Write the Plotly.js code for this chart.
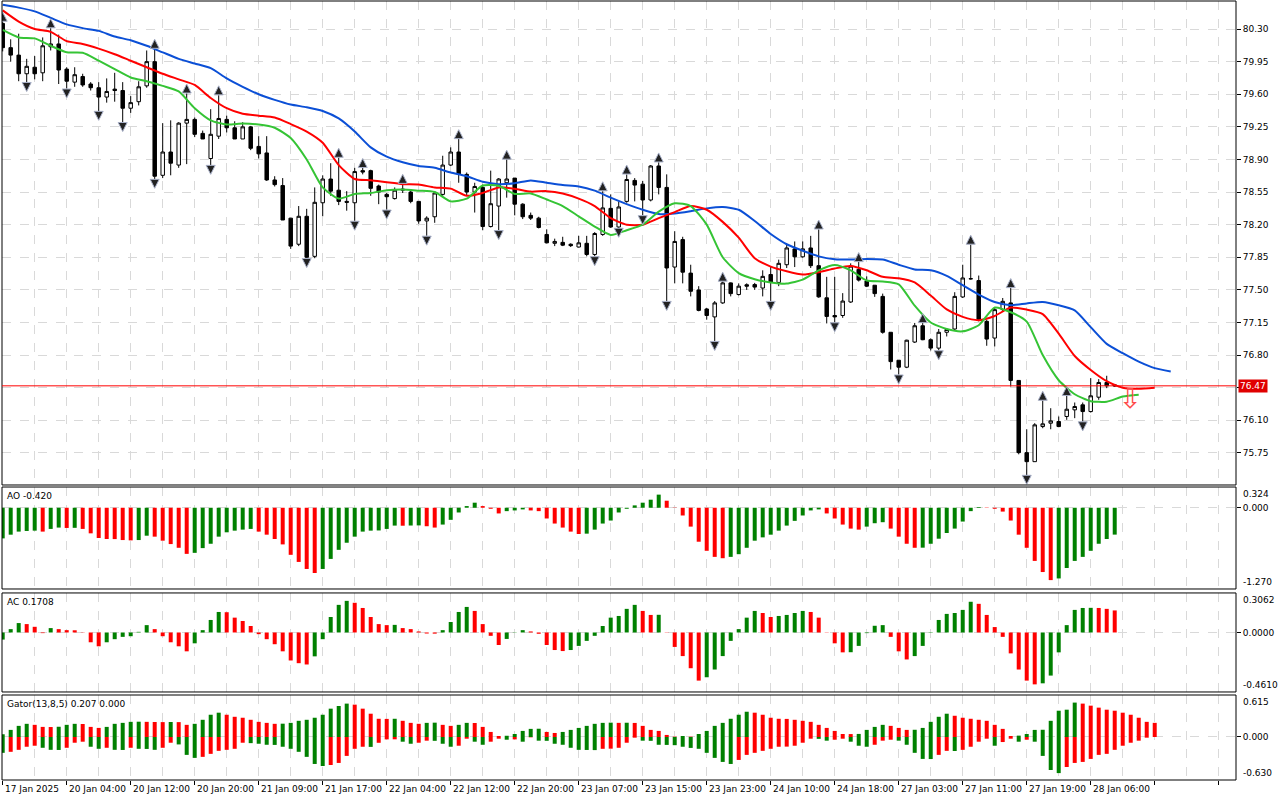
<!DOCTYPE html>
<html>
<head>
<meta charset="utf-8">
<script src="https://cdn.plot.ly/plotly-3.0.1.min.js"></script>
<style>
  html, body { margin: 0; padding: 0; background: #fff; }
  #chart { width: 1280px; height: 800px; }
</style>
</head>
<body>
<div id="chart"></div>
<script>
// H1 candles, bar 0 = 17 Jan 2025
var opens = [
  80.36,80.10,80.02,79.82,79.89,79.83,80.11,80.14,79.87,79.73,
  79.79,79.71,79.67,79.57,79.655,79.64,79.45,79.52,79.69,79.95,
  78.73,78.98,78.84,79.29,79.33,79.18,78.91,79.15,79.33,79.24,
  79.12,79.25,79.04,78.97,78.68,78.62,78.27,77.99,78.29,77.86,
  78.435,78.69,78.57,78.45,78.435,78.78,78.78,78.615,78.525,78.48,
  78.57,78.55,78.45,78.24,78.285,78.525,78.84,78.98,78.74,78.55,
  78.60,78.18,78.40,78.65,78.70,78.42,78.30,78.27,78.095,78.00,
  78.01,77.99,77.96,78.00,77.88,78.095,78.375,78.175,78.45,78.675,
  78.635,78.465,78.83,78.60,77.745,78.04,77.68,77.50,77.295,77.21,
  77.36,77.575,77.45,77.555,77.557,77.52,77.665,77.58,77.77,77.94,
  77.855,77.95,77.76,77.415,77.225,77.225,77.37,77.72,77.595,77.55,
  77.43,77.045,76.745,76.67,76.94,77.115,76.965,76.875,77.045,77.08,
  77.424,77.618,77.60,77.162,76.983,77.288,77.36,76.528,75.753,75.656,
  76.033,76.069,76.087,76.141,76.212,76.266,76.194,76.348,76.506,76.48
];
var highs = [
  80.38,80.19,80.25,79.98,80.01,80.21,80.31,80.24,79.89,79.89,
  79.82,79.73,79.73,79.77,79.83,79.73,79.58,79.74,80.07,80.09,
  79.29,79.32,79.30,79.61,79.35,79.21,79.44,79.59,79.37,79.31,
  79.30,79.26,79.15,79.15,78.72,78.70,78.27,78.40,78.37,78.60,
  78.73,78.86,78.92,78.56,78.81,78.81,78.79,78.63,78.54,78.60,
  78.64,78.58,78.45,78.29,78.56,78.94,79.03,79.12,78.76,78.65,
  78.63,78.78,78.70,78.90,78.70,78.43,78.33,78.285,78.15,78.05,
  78.07,78.00,78.08,78.08,78.12,78.56,78.525,78.45,78.74,78.70,
  78.67,78.84,78.87,78.74,78.13,78.07,77.77,77.54,77.305,77.38,
  77.59,77.58,77.57,77.57,77.575,77.71,77.755,77.825,77.99,78.02,
  78.02,78.08,78.15,77.64,77.64,77.465,77.785,77.80,77.645,77.55,
  77.46,77.045,76.745,76.965,77.145,77.145,76.98,77.08,77.09,77.475,
  77.77,77.987,77.654,77.18,77.306,77.413,77.521,76.528,76.004,76.069,
  76.312,76.23,76.141,76.363,76.291,76.291,76.553,76.542,76.578,76.49
];
var lows = [
  80.06,79.95,79.74,79.73,79.76,79.74,80.07,79.71,79.66,79.68,
  79.68,79.64,79.42,79.51,79.52,79.30,79.40,79.48,79.67,78.69,
  78.70,78.73,78.81,78.85,79.14,79.12,78.84,79.12,79.19,79.12,
  79.12,79.00,78.91,78.67,78.61,78.25,77.94,77.97,77.84,77.84,
  78.29,78.51,78.41,78.35,78.24,78.74,78.51,78.42,78.36,78.47,
  78.54,78.43,78.21,78.08,78.22,78.51,78.83,78.65,78.51,78.33,
  78.14,78.17,78.14,78.49,78.30,78.26,78.25,78.16,78.00,77.97,
  77.97,77.96,77.955,77.86,77.86,78.08,78.165,78.165,78.435,78.45,
  78.30,78.45,78.525,77.38,77.57,77.57,77.43,77.27,77.18,76.95,
  77.35,77.43,77.44,77.50,77.50,77.43,77.38,77.54,77.735,77.745,
  77.845,77.735,77.415,77.14,77.15,77.20,77.36,77.59,77.53,77.425,
  77.03,76.645,76.59,76.66,76.93,76.96,76.85,76.85,77.00,77.065,
  77.413,77.61,77.162,76.90,76.893,77.27,76.463,75.735,75.513,75.656,
  76.015,76.004,76.026,76.105,76.123,76.087,76.183,76.32,76.445,76.46
];
var closes = [
  80.10,80.02,79.82,79.90,79.82,80.12,80.14,79.86,79.74,79.81,
  79.70,79.67,79.57,79.63,79.64,79.45,79.51,79.68,79.95,78.72,
  78.98,78.86,79.29,79.33,79.17,79.12,79.17,79.34,79.24,79.12,
  79.25,79.02,78.96,78.68,78.63,78.25,77.97,78.29,77.85,78.44,
  78.69,78.56,78.45,78.44,78.77,78.765,78.59,78.55,78.50,78.57,
  78.58,78.45,78.24,78.27,78.54,78.84,78.98,78.74,78.55,78.61,
  78.18,78.425,78.69,78.69,78.42,78.285,78.27,78.17,78.005,78.02,
  77.98,77.975,78.005,77.88,78.105,78.38,78.175,78.39,78.685,78.625,
  78.465,78.83,78.60,77.735,78.02,77.69,77.485,77.28,77.225,77.36,
  77.575,77.46,77.54,77.54,77.53,77.645,77.58,77.785,77.95,77.855,
  77.94,77.76,77.425,77.215,77.21,77.38,77.755,77.605,77.54,77.46,
  77.045,76.73,76.67,76.96,77.115,76.965,76.875,77.045,77.075,77.43,
  77.628,77.62,77.18,76.972,77.288,77.377,76.528,75.753,75.656,76.051,
  76.062,76.094,76.033,76.219,76.248,76.194,76.363,76.506,76.47,76.47
];

// Alligator lines, one value every 2 bars (already shifted forward)
var jaw = [
  80.56,80.53,80.49,80.42,80.35,80.31,80.28,80.22,80.18,80.12,
  80.05,79.98,79.93,79.88,79.77,79.68,79.60,79.54,79.49,79.46,
  79.42,79.34,79.20,79.03,78.93,78.87,78.83,78.81,78.76,78.72,
  78.66,78.635,78.645,78.675,78.65,78.625,78.61,78.565,78.49,78.42,
  78.36,78.315,78.32,78.345,78.375,78.39,78.36,78.24,78.10,77.99,
  77.92,77.86,77.83,77.826,77.832,77.826,77.77,77.72,77.71,77.65,
  77.55,77.45,77.37,77.335,77.355,77.37,77.335,77.28,77.10,76.92,
  76.82,76.73,76.66,76.625
];
var teeth = [
  80.50,80.38,80.30,80.27,80.17,80.14,80.09,80.03,79.96,79.89,
  79.82,79.76,79.70,79.56,79.45,79.39,79.37,79.35,79.28,79.20,
  79.08,78.84,78.69,78.677,78.655,78.635,78.63,78.60,78.587,78.51,
  78.54,78.60,78.585,78.555,78.56,78.535,78.48,78.40,78.27,78.20,
  78.20,78.27,78.335,78.40,78.36,78.23,78.06,77.84,77.75,77.70,
  77.665,77.69,77.73,77.757,77.71,77.64,77.625,77.58,77.44,77.29,
  77.21,77.175,77.22,77.31,77.288,77.24,77.03,76.79,76.64,76.52,
  76.45,76.44,76.45
];
var lips = [
  80.29,80.21,80.20,80.12,80.05,80.045,79.96,79.87,79.78,79.74,
  79.69,79.63,79.45,79.32,79.275,79.285,79.275,79.24,79.13,78.90,
  78.60,78.48,78.53,78.54,78.57,78.578,78.565,78.55,78.45,78.48,
  78.62,78.617,78.53,78.535,78.47,78.40,78.29,78.18,78.09,78.14,
  78.20,78.34,78.43,78.40,78.20,77.85,77.68,77.615,77.58,77.568,
  77.61,77.71,77.768,77.71,77.60,77.59,77.56,77.33,77.15,77.08,
  77.055,77.12,77.31,77.26,77.16,76.80,76.53,76.38,76.305,76.30,
  76.355,76.375
];

var upFractals = [0,6,19,23,27,42,45,50,57,63,75,78,82,90,102,107,115,121,126,130,133];
var downFractals = [3,8,12,15,19,26,38,44,48,53,62,74,77,80,83,89,96,104,112,117,128,135];

var ao = [
  -0.479,-0.421,-0.373,-0.363,-0.358,-0.373,-0.331,-0.310,-0.316,-0.314,
  -0.331,-0.400,-0.473,-0.489,-0.490,-0.505,-0.510,-0.505,-0.437,-0.452,
  -0.515,-0.568,-0.626,-0.721,-0.705,-0.631,-0.563,-0.452,-0.384,-0.358,
  -0.342,-0.331,-0.373,-0.421,-0.489,-0.573,-0.736,-0.847,-0.957,-1.020,
  -0.957,-0.800,-0.658,-0.547,-0.452,-0.373,-0.358,-0.355,-0.331,-0.279,
  -0.281,-0.278,-0.276,-0.289,-0.310,-0.263,-0.189,-0.074,0.026,0.079,
  0.026,-0.016,-0.089,-0.053,-0.042,-0.026,-0.042,-0.053,-0.168,-0.247,
  -0.310,-0.373,-0.410,-0.405,-0.342,-0.247,-0.200,-0.074,-0.016,0.037,
  0.079,0.126,0.205,0.110,-0.004,-0.121,-0.295,-0.531,-0.673,-0.768,
  -0.789,-0.768,-0.726,-0.626,-0.515,-0.463,-0.421,-0.358,-0.279,-0.205,
  -0.121,-0.042,-0.026,-0.089,-0.168,-0.263,-0.326,-0.342,-0.295,-0.242,
  -0.226,-0.326,-0.452,-0.563,-0.626,-0.624,-0.563,-0.484,-0.395,-0.326,
  -0.216,-0.053,0.011,0.005,-0.016,-0.060,-0.200,-0.421,-0.626,-0.831,
  -1.005,-1.131,-1.105,-0.942,-0.831,-0.768,-0.673,-0.563,-0.489,-0.420
];
var ac = [
  -0.055,0.026,0.073,0.065,0.044,-0.005,0.034,0.026,0.018,0.017,
  -0.002,-0.076,-0.107,-0.076,-0.052,-0.034,-0.029,0.005,0.057,0.026,
  -0.029,-0.076,-0.107,-0.146,-0.084,0.018,0.097,0.159,0.157,0.115,
  0.089,0.050,-0.013,-0.052,-0.091,-0.146,-0.217,-0.238,-0.248,-0.185,
  -0.052,0.120,0.214,0.245,0.230,0.190,0.120,0.065,0.057,0.059,
  0.034,0.026,0.008,-0.008,-0.009,0.018,0.081,0.159,0.198,0.167,
  0.065,-0.026,-0.097,-0.050,-0.002,0.018,0.008,-0.010,-0.097,-0.136,
  -0.144,-0.136,-0.104,-0.065,-0.026,0.050,0.115,0.128,0.183,0.214,
  0.167,0.136,0.137,-0.002,-0.112,-0.183,-0.277,-0.373,-0.347,-0.287,
  -0.183,-0.065,0.026,0.115,0.167,0.151,0.120,0.128,0.136,0.151,
  0.167,0.159,0.115,-0.002,-0.084,-0.154,-0.153,-0.104,-0.005,0.052,
  0.057,-0.034,-0.146,-0.209,-0.183,-0.104,-0.003,0.097,0.144,0.151,
  0.175,0.238,0.222,0.136,0.042,-0.034,-0.162,-0.287,-0.373,-0.402,
  -0.394,-0.334,-0.154,0.057,0.175,0.190,0.191,0.190,0.183,0.1708
];
var gatorUp = [
  0.040,0.104,0.163,0.193,0.178,0.148,0.146,0.150,0.178,0.193,
  0.190,0.148,0.133,0.148,0.193,0.207,0.222,0.224,0.222,0.220,
  0.218,0.220,0.218,0.178,0.193,0.252,0.326,0.356,0.326,0.296,
  0.282,0.252,0.222,0.207,0.193,0.195,0.207,0.237,0.252,0.282,
  0.326,0.415,0.454,0.489,0.474,0.415,0.341,0.267,0.265,0.267,
  0.237,0.207,0.193,0.207,0.210,0.178,0.163,0.178,0.207,0.205,
  0.148,0.074,0.015,0.018,0.044,0.089,0.119,0.121,0.074,0.059,
  0.074,0.104,0.133,0.163,0.193,0.207,0.210,0.207,0.209,0.206,
  0.163,0.104,0.089,0.030,0.005,0.015,0.005,0.044,0.089,0.163,
  0.207,0.267,0.326,0.370,0.356,0.326,0.282,0.267,0.265,0.252,
  0.237,0.222,0.178,0.133,0.089,0.044,0.043,0.045,0.104,0.148,
  0.178,0.163,0.133,0.104,0.106,0.133,0.222,0.296,0.341,0.311,
  0.282,0.267,0.252,0.237,0.178,0.119,0.015,0.020,0.044,0.104,
  0.106,0.237,0.385,0.400,0.504,0.489,0.459,0.430,0.400,0.385,
  0.356,0.326,0.282,0.222,0.207
];
var gatorDown = [
  -0.232,-0.217,-0.188,-0.143,-0.128,-0.158,-0.188,-0.190,-0.158,-0.084,
  -0.069,-0.143,-0.173,-0.158,-0.188,-0.190,-0.158,-0.173,-0.175,-0.188,
  -0.158,-0.084,-0.109,-0.262,-0.306,-0.291,-0.247,-0.203,-0.188,-0.173,
  -0.084,-0.090,-0.099,-0.114,-0.116,-0.143,-0.173,-0.217,-0.291,-0.395,
  -0.425,-0.410,-0.380,-0.277,-0.173,-0.143,-0.145,-0.085,-0.035,-0.034,
  -0.069,-0.099,-0.084,-0.054,-0.056,-0.099,-0.143,-0.128,-0.025,-0.069,
  -0.114,-0.069,-0.025,-0.040,-0.035,-0.069,-0.005,-0.054,-0.056,-0.099,
  -0.114,-0.158,-0.188,-0.190,-0.192,-0.173,-0.171,-0.158,-0.084,-0.010,
  -0.054,-0.056,-0.114,-0.116,-0.120,-0.143,-0.160,-0.173,-0.232,-0.306,
  -0.365,-0.395,-0.336,-0.262,-0.232,-0.203,-0.173,-0.143,-0.141,-0.128,
  -0.084,-0.025,-0.027,-0.054,-0.040,-0.025,-0.069,-0.128,-0.143,-0.114,
  -0.054,-0.040,-0.054,-0.114,-0.232,-0.321,-0.323,-0.262,-0.203,-0.205,
  -0.188,-0.143,-0.069,-0.025,-0.128,-0.074,-0.025,-0.069,-0.040,-0.069,
  -0.277,-0.484,-0.529,-0.440,-0.380,-0.365,-0.321,-0.262,-0.247,-0.188,
  -0.128,-0.084,-0.054,-0.010,0
];

var priceTicks = [80.30,79.95,79.60,79.25,78.90,78.55,78.20,77.85,77.50,77.15,76.80,76.45,76.10,75.75];
var lastPrice = 76.47;
var timeLabels = ['17 Jan 2025','20 Jan 04:00','20 Jan 12:00','20 Jan 20:00','21 Jan 09:00','21 Jan 17:00',
  '22 Jan 04:00','22 Jan 12:00','22 Jan 20:00','23 Jan 07:00','23 Jan 15:00','23 Jan 23:00',
  '24 Jan 10:00','24 Jan 18:00','27 Jan 03:00','27 Jan 11:00','27 Jan 19:00','28 Jan 06:00'];

var GREEN = '#008000', RED = '#ff0000';
var FONT = 'DejaVu Sans, Tahoma, sans-serif';

function idx(arr, step) {
  return arr.map(function (v, i) { return i * step; });
}
function upDownColors(vals) {
  return vals.map(function (v, i) { return (i === 0 || v > vals[i - 1]) ? GREEN : RED; });
}
function gatorColors(vals) {
  return vals.map(function (v, i) { return (i === 0 || Math.abs(v) > Math.abs(vals[i - 1])) ? GREEN : RED; });
}

function drawChart(id) {
  var bars = idx(opens, 1);
  var traces = [];

  traces.push({
    type: 'candlestick', x: bars, open: opens, high: highs, low: lows, close: closes,
    xaxis: 'x', yaxis: 'y',
    increasing: {line: {color: '#000', width: 1}, fillcolor: '#fff'},
    decreasing: {line: {color: '#000', width: 1}, fillcolor: '#000'},
    whiskerwidth: 0
  });
  traces.push({type: 'scatter', mode: 'lines', x: idx(jaw, 2), y: jaw, xaxis: 'x', yaxis: 'y',
    line: {color: '#0b4fd6', width: 2, shape: 'spline', smoothing: 0.6}});
  traces.push({type: 'scatter', mode: 'lines', x: idx(teeth, 2), y: teeth, xaxis: 'x', yaxis: 'y',
    line: {color: '#ff0000', width: 2, shape: 'spline', smoothing: 0.6}});
  traces.push({type: 'scatter', mode: 'lines', x: idx(lips, 2), y: lips, xaxis: 'x', yaxis: 'y',
    line: {color: '#35c435', width: 2, shape: 'spline', smoothing: 0.6}});

  traces.push({type: 'scatter', mode: 'markers', xaxis: 'x', yaxis: 'y',
    x: upFractals, y: upFractals.map(function (i) { return highs[i] + 0.1; }),
    marker: {symbol: 'arrow-up', size: 9, color: '#222', line: {color: '#a8b0c8', width: 1}}});
  traces.push({type: 'scatter', mode: 'markers', xaxis: 'x', yaxis: 'y',
    x: downFractals, y: downFractals.map(function (i) { return lows[i] - 0.1; }),
    marker: {symbol: 'arrow-down', size: 9, color: '#222', line: {color: '#a8b0c8', width: 1}}});

  traces.push({type: 'bar', x: bars, y: ao, xaxis: 'x2', yaxis: 'y2', width: 0.5,
    marker: {color: upDownColors(ao), line: {width: 0}}});
  traces.push({type: 'bar', x: bars, y: ac, xaxis: 'x3', yaxis: 'y3', width: 0.5,
    marker: {color: upDownColors(ac), line: {width: 0}}});
  traces.push({type: 'bar', x: idx(gatorUp, 1), y: gatorUp, xaxis: 'x4', yaxis: 'y4', width: 0.5,
    marker: {color: gatorColors(gatorUp), line: {width: 0}}});
  traces.push({type: 'bar', x: idx(gatorDown, 1), y: gatorDown, xaxis: 'x4', yaxis: 'y4', width: 0.5,
    marker: {color: gatorColors(gatorDown), line: {width: 0}}});

  var xr = [-0.0875, 154.16];
  var grid = {showgrid: true, gridcolor: '#d9d9d9', griddash: 'dash', gridwidth: 1};
  function xa(anchor) {
    return Object.assign({anchor: anchor, domain: [0, 1], range: xr, dtick: 4, tick0: 0,
      showticklabels: false, ticks: '', zeroline: false, showline: false, fixedrange: true}, grid);
  }
  function ya(domain, range, vals, texts) {
    return Object.assign({domain: domain, range: range, side: 'right', tickvals: vals, ticktext: texts,
      ticks: 'outside', ticklen: 4, tickcolor: '#000', zeroline: false, showline: false,
      tickfont: {family: FONT, size: 9, color: '#000'}}, grid);
  }

  var dPrice = [0.3787, 1], dAO = [0.2452, 0.3761], dAC = [0.1130, 0.2401], dGator = [0, 0.1091];

  // the current price tag covers the tick label next to it
  var priceTickText = priceTicks.map(function (v) {
    return Math.abs(v - lastPrice) < 0.1 ? '' : v.toFixed(2);
  });

  var layout = {
    width: 1280, height: 800,
    margin: {l: 2, r: 44, t: 1, b: 20},
    paper_bgcolor: '#fff', plot_bgcolor: '#fff',
    showlegend: false, hovermode: false,
    barmode: 'overlay', boxgap: 0.38,
    font: {family: FONT, size: 9, color: '#000'},
    xaxis: Object.assign(xa('y'), {rangeslider: {visible: false}}),
    xaxis2: xa('y2'),
    xaxis3: xa('y3'),
    xaxis4: Object.assign(xa('y4'), {dtick: 8, ticks: 'outside', ticklen: 4, tickcolor: '#000',
      minor: {dtick: 4, tick0: 0, showgrid: true, gridcolor: '#d9d9d9', griddash: 'dash'}}),
    yaxis: ya(dPrice, [75.4056, 80.601], priceTicks, priceTickText),
    yaxis2: ya(dAO, [-1.270, 0.324], [0], ['0.000']),
    yaxis3: ya(dAC, [-0.4610, 0.3062], [0], ['0.0000']),
    yaxis4: ya(dGator, [-0.630, 0.615], [0], ['0.000']),
    shapes: [],
    annotations: []
  };
  layout.yaxis.anchor = 'x';
  layout.yaxis2.anchor = 'x2';
  layout.yaxis3.anchor = 'x3';
  layout.yaxis4.anchor = 'x4';

  [dPrice, dAO, dAC, dGator].forEach(function (d) {
    layout.shapes.push({type: 'rect', xref: 'paper', yref: 'paper', x0: 0, x1: 1, y0: d[0], y1: d[1],
      line: {color: '#000', width: 1}, layer: 'above'});
  });
  layout.shapes.push({type: 'line', xref: 'paper', yref: 'y', x0: 0, x1: 1, y0: lastPrice, y1: lastPrice,
    line: {color: '#ff0000', width: 1}});

  var lbl = {family: FONT, size: 9, color: '#000'};
  function paneTitle(text, top) {
    layout.annotations.push({xref: 'paper', yref: 'paper', x: 0, y: top, xanchor: 'left', yanchor: 'top',
      xshift: 3, yshift: -2, text: text, showarrow: false, font: lbl});
  }
  paneTitle('AO ' + ao[ao.length - 1].toFixed(3), dAO[1]);
  paneTitle('AC ' + ac[ac.length - 1].toFixed(4), dAC[1]);
  paneTitle('Gator(13,8,5) ' + gatorUp[gatorUp.length - 1].toFixed(3) + ' ' +
    Math.abs(gatorDown[gatorDown.length - 1]).toFixed(3), dGator[1]);

  function edgeLabel(axis, value, text, anchor) {
    layout.annotations.push({xref: 'paper', yref: axis, x: 1, y: value, xanchor: 'left', yanchor: anchor,
      xshift: 5, text: text, showarrow: false, font: lbl});
  }
  edgeLabel('y2', 0.324, '0.324', 'top');
  edgeLabel('y2', -1.270, '-1.270', 'bottom');
  edgeLabel('y3', 0.3062, '0.3062', 'top');
  edgeLabel('y3', -0.4610, '-0.4610', 'bottom');
  edgeLabel('y4', 0.615, '0.615', 'top');
  edgeLabel('y4', -0.630, '-0.630', 'bottom');

  // current price tag
  layout.annotations.push({xref: 'paper', yref: 'y', x: 1, y: lastPrice, xanchor: 'left', yanchor: 'middle',
    xshift: 2, text: lastPrice.toFixed(2), showarrow: false, bgcolor: '#e00000', borderpad: 1,
    font: {family: FONT, size: 9, color: '#fff'}});

  // signal arrow after the last bar
  layout.annotations.push({xref: 'x', yref: 'y', x: 141, y: 76.33, text: '\u21e9', showarrow: false,
    font: {family: 'DejaVu Sans', size: 27, color: '#ff4a4a'}});

  timeLabels.forEach(function (t, k) {
    layout.annotations.push({xref: 'x4', yref: 'paper', x: k * 8, y: 0, xanchor: 'left', yanchor: 'top',
      yshift: -2, text: t, showarrow: false, font: lbl});
  });

  Plotly.newPlot(id, traces, layout, {staticPlot: true, displayModeBar: false});
}

drawChart('chart');
</script>
</body>
</html>
